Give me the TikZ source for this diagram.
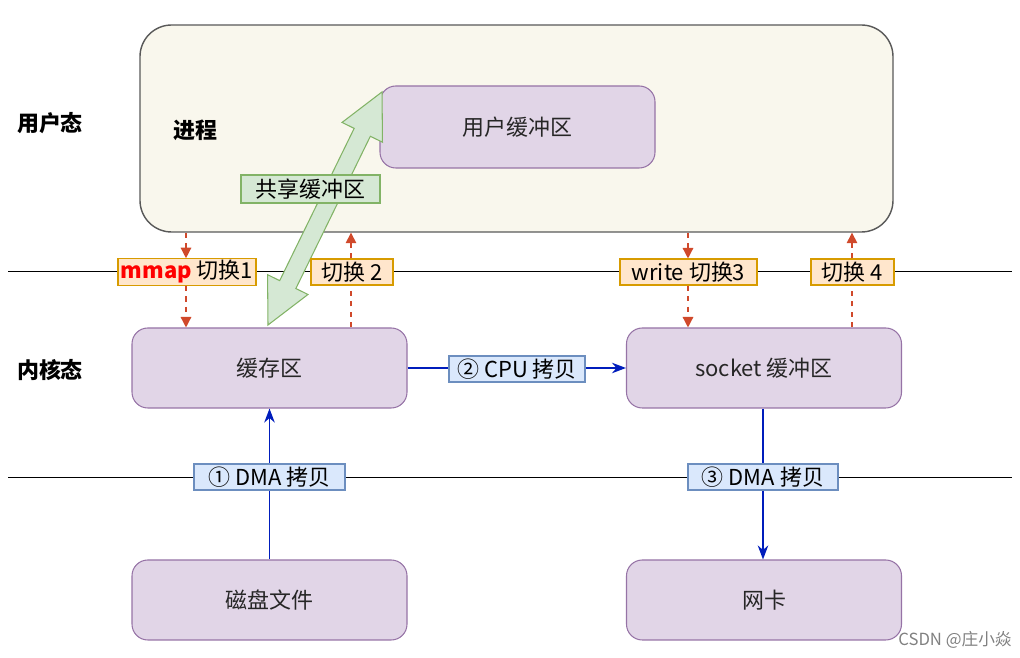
\documentclass[tikz,border=0pt]{standalone}
\usepackage{fontspec}
\setmainfont{Noto Sans CJK SC}
\usepackage{tikz}
\usetikzlibrary{arrows.meta}
\usepackage{xcolor}
\definecolor{procfill}{HTML}{F9F7ED}
\definecolor{boxfill}{HTML}{E1D5E7}
\definecolor{boxdraw}{HTML}{9673A6}
\definecolor{swfill}{HTML}{FFE6CC}
\definecolor{swdraw}{HTML}{D79B00}
\definecolor{cpfill}{HTML}{DAE8FC}
\definecolor{cpdraw}{HTML}{6C8EBF}
\definecolor{grfill}{HTML}{D5E8D4}
\definecolor{grdraw}{HTML}{82B366}
\definecolor{swarrow}{HTML}{D0492B}
\definecolor{cparrow}{HTML}{001DBC}

\tikzset{
    membox/.style={draw=boxdraw, fill=boxfill, semithick, rounded corners=9pt, minimum width=5.5cm, minimum height=1.6cm, text=black!85},
    swlabel/.style={draw=swdraw, fill=swfill, semithick, minimum height=0.52cm, inner sep=1pt},
    cplabel/.style={draw=cpdraw, fill=cpfill, semithick, minimum height=0.52cm, inner sep=1pt},
    switcharrow/.style={draw=swarrow, dashed, thick, -{Triangle[length=6pt,width=6pt]}},
    copyarrow/.style={draw=cparrow, thick, -{Stealth[length=8pt,width=6pt]}}
}

\begin{document}
\begin{tikzpicture}[font=\fontsize{12.5}{15}\selectfont]
        \useasboundingbox (0,0) rectangle (20.4,13.16);
        % user space
        \node[draw=black!65, fill=procfill, thick, rounded corners=18pt, minimum width=15.06cm, minimum height=4.14cm] (proc) at (10.33,10.59) {};
        \node[membox, minimum height=1.64cm] (ubuf) at (10.35,10.62) {用户缓冲区};
        \node[font=\fontsize{12.5}{15}\selectfont\bfseries] (user) at (1.0,10.7) {用户态};
        \node[font=\fontsize{12.5}{15}\selectfont\bfseries] (procname) at (3.9,10.56) {进程};

        % boundary lines
        \draw (0.16,7.74) -- (20.24,7.74);
        \draw (0.16,3.62) -- (20.24,3.62);

        % kernel space
        \node[font=\fontsize{12.5}{15}\selectfont\bfseries] (kernel) at (1.0,5.76) {内核态};
        \node[membox] (cache) at (5.39,5.8) {缓存区};
        \node[membox] (sock) at (15.28,5.8) {socket 缓冲区};
        \node[membox] (disk) at (5.39,1.16) {磁盘文件};
        \node[membox] (nic) at (15.28,1.16) {网卡};

        % shared buffer arrow
        \coordinate (sharelo) at (5.36,6.66);
        \coordinate (sharehi) at (7.64,11.32);
        \begin{scope}[shift={(sharelo)}, rotate=63.93]
            \draw[grdraw, fill=grfill, semithick, line join=miter] (0,0) -- (0.9,0.45) -- (0.9,0.18) -- (4.29,0.18) -- (4.29,0.45)
                -- (5.19,0) -- (4.29,-0.45) -- (4.29,-0.18) -- (0.9,-0.18) -- (0.9,-0.45) -- cycle;
        \end{scope}
        \node[draw=grdraw, fill=grfill, semithick, minimum width=2.78cm, minimum height=0.56cm, inner sep=1pt] (share) at (6.21,9.38) {共享缓冲区};

        % context switches
        \node[swlabel, minimum width=2.76cm] (sw1) at (3.74,7.72) {\textcolor{red}{\bfseries mmap} 切换1};
        \node[swlabel, minimum width=1.64cm] (sw2) at (7.04,7.72) {切换 2};
        \node[swlabel, minimum width=2.74cm] (sw3) at (13.77,7.72) {write 切换3};
        \node[swlabel, minimum width=1.66cm] (sw4) at (17.05,7.72) {切换 4};
        \draw[switcharrow] (proc.south -| 3.72,0) -- (sw1.north -| 3.72,0);
        \draw[switcharrow] (sw1.south -| 3.72,0) -- (cache.north -| 3.72,0);
        \draw[switcharrow, -] (cache.north -| 7.02,0) -- (sw2.south -| 7.02,0);
        \draw[switcharrow] (sw2.north -| 7.02,0) -- (proc.south -| 7.02,0);
        \draw[switcharrow] (proc.south -| 13.76,0) -- (sw3.north -| 13.76,0);
        \draw[switcharrow] (sw3.south -| 13.76,0) -- (sock.north -| 13.76,0);
        \draw[switcharrow, -] (sock.north -| 17.04,0) -- (sw4.south -| 17.04,0);
        \draw[switcharrow] (sw4.north -| 17.04,0) -- (proc.south -| 17.04,0);

        % copies
        \draw[copyarrow] (cache.east) -- (sock.west);
        \node[cplabel, minimum width=2.72cm] (cpu) at (10.34,5.78) {② CPU 拷贝};
        \draw[copyarrow] (disk.north) -- (cache.south);
        \node[cplabel, minimum width=3.02cm] (dma1) at (5.39,3.62) {① DMA 拷贝};
        \draw[copyarrow] (sock.south -| 15.26,0) -- (nic.north -| 15.26,0);
        \node[cplabel, minimum width=3.0cm] (dma3) at (15.26,3.62) {③ DMA 拷贝};

        \node[text=black!50, font=\fontsize{9.5}{11}\selectfont] (mark) at (19.1,0.36) {CSDN @庄小焱};
    \end{tikzpicture}
\end{document}
